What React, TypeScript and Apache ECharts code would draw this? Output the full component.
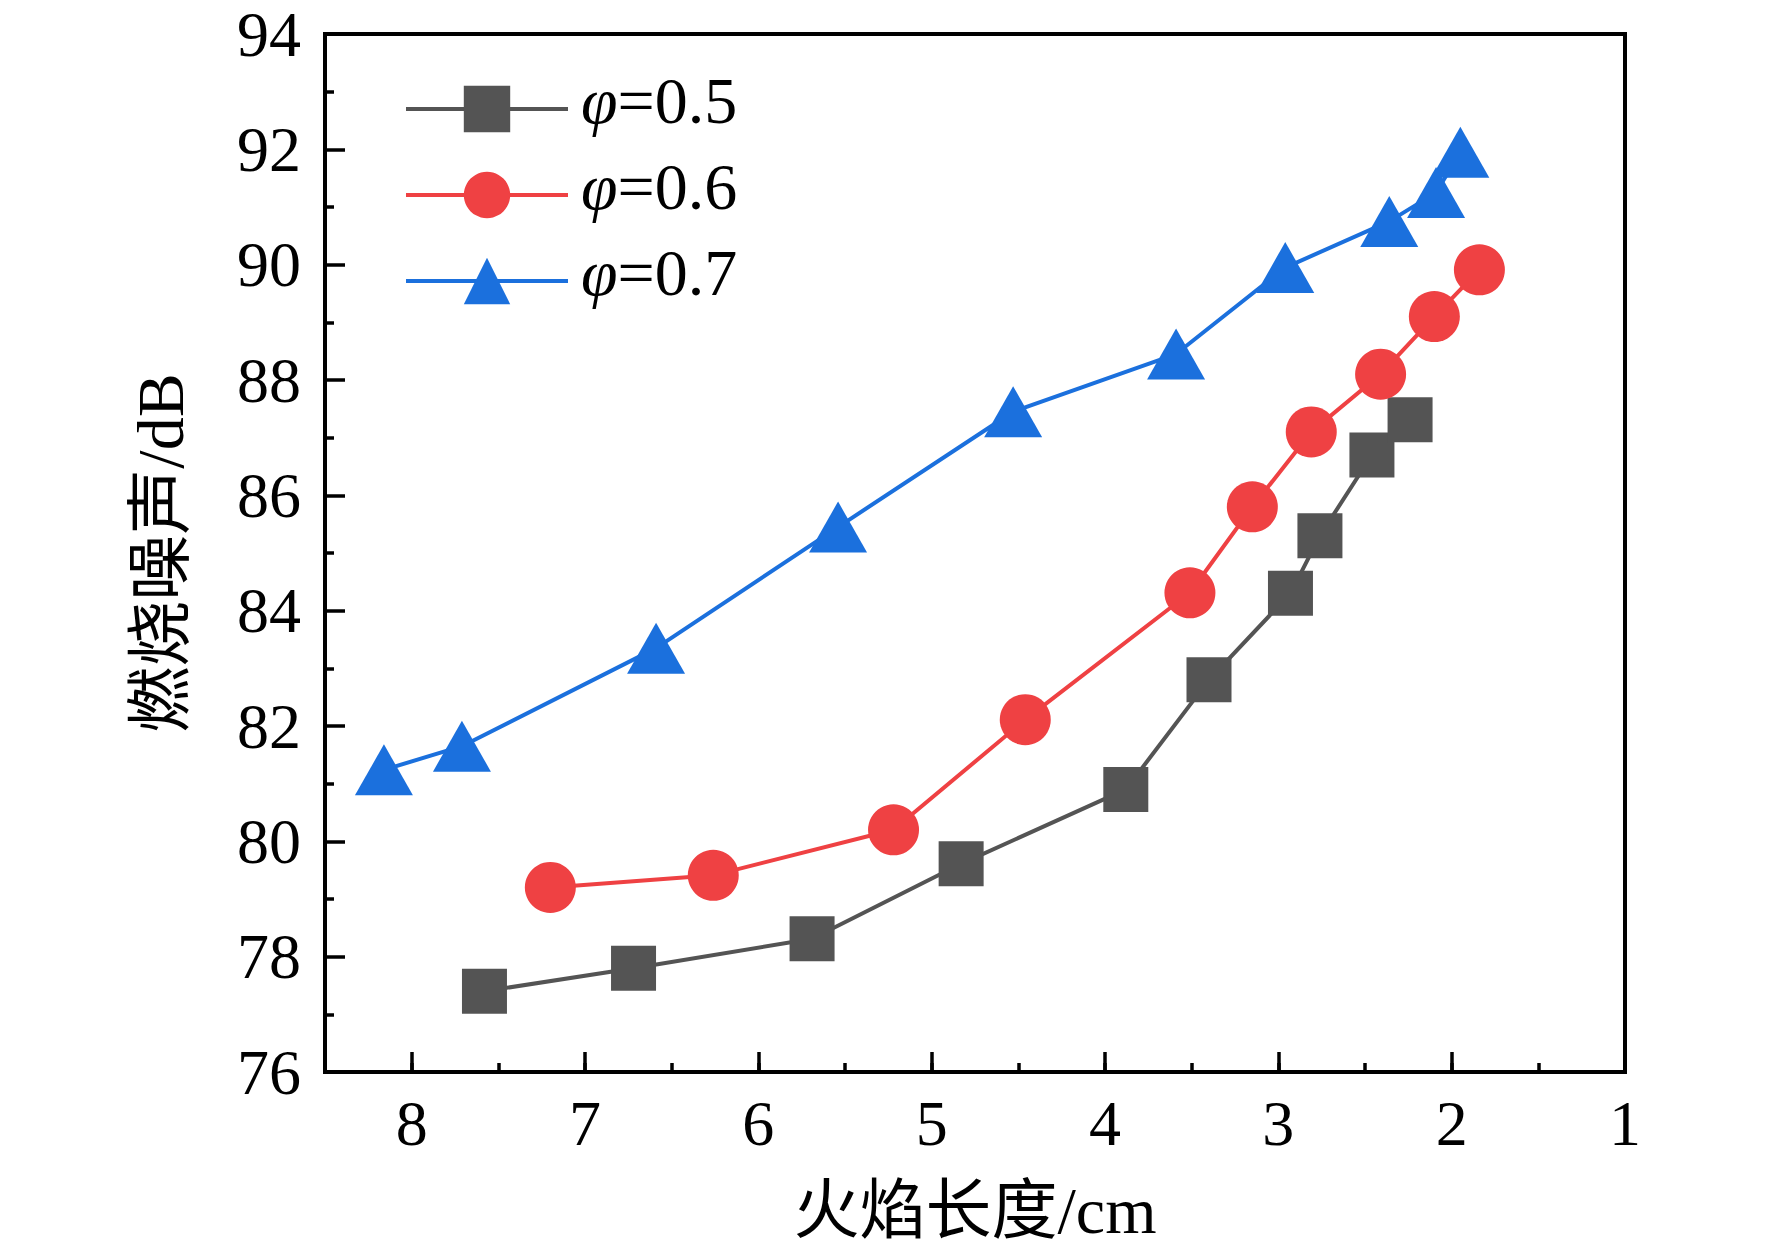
import React, { useEffect, useRef } from 'react';
import * as echarts from 'echarts';

const seriesNames = ['φ=0.5', 'φ=0.6', 'φ=0.7'];
const seriesColors = ['#545454', '#ef4143', '#1b70dd'];
const seriesSymbols = ['rect', 'circle', 'triangle'];

const lenPhi05 = [7.58, 6.72, 5.69, 4.83, 3.88, 3.40, 2.93, 2.76, 2.46, 2.24];
const noisePhi05 = [77.40, 77.80, 78.31, 79.61, 80.90, 82.80, 84.30, 85.30, 86.70, 87.31];
const lenPhi06 = [7.20, 6.26, 5.22, 4.46, 3.51, 3.15, 2.81, 2.41, 2.10, 1.84];
const noisePhi06 = [79.20, 79.41, 80.20, 82.11, 84.31, 85.80, 87.10, 88.10, 89.10, 89.91];
const lenPhi07 = [8.16, 7.71, 6.59, 5.54, 4.53, 3.59, 2.96, 2.36, 2.09, 1.95];
const noisePhi07 = [81.24, 81.65, 83.35, 85.45, 87.45, 88.45, 89.95, 90.75, 91.25, 91.95];

const xMin = 1;
const xMax = 8.5;
const yMin = 76;
const yMax = 94;
const xTitle = '火焰长度/cm';
const yTitle = '燃烧噪声/dB';

const FONT = "'Liberation Serif', 'Times New Roman', 'Noto Sans CJK SC', serif";

export default function App() {
  const ref = useRef<HTMLDivElement>(null);
  useEffect(() => {
    document.body.style.margin = '0';
    if (!ref.current) return;
    const chart = echarts.init(ref.current, null, { renderer: 'svg' });
    const xs = [lenPhi05, lenPhi06, lenPhi07];
    const ys = [noisePhi05, noisePhi06, noisePhi07];
    const sizes: any[] = [45, 51, [58, 51]];
    const legendCenters = [111, 197, 283];
    const itemH = 58;
    const padB = 18;
    const option: any = {
      animation: false,
      backgroundColor: '#fff',
      grid: {
        left: 325, right: 147, top: 34, bottom: 181,
        show: true, borderColor: '#000', borderWidth: 4,
      },
      legend: seriesNames.map((n, i) => ({
        data: [n],
        orient: 'vertical',
        left: 404,
        top: legendCenters[i] - itemH / 2 - padB / 2 - 6,
        itemWidth: 162,
        itemHeight: itemH,
        padding: 0,
        selectedMode: false,
        lineStyle: { width: 4 },
        formatter: (name: string) => `{i|φ}{n|${name.slice(1)}}`,
        textStyle: {
          fontSize: 66, fontFamily: FONT, color: '#000', lineHeight: itemH,
          rich: {
            i: { fontSize: 66, fontFamily: FONT, fontStyle: 'italic', color: '#000', lineHeight: itemH, padding: [0, 0, padB, 8] },
            n: { fontSize: 66, fontFamily: FONT, color: '#000', lineHeight: itemH, padding: [0, 0, padB, 0] },
          },
        },
      })),
      xAxis: [
        {
          type: 'value', min: xMin, max: xMax, interval: 0.5, inverse: true, position: 'bottom',
          name: xTitle, nameLocation: 'middle', nameGap: 105,
          nameTextStyle: { fontSize: 66, fontFamily: FONT, color: '#000' },
          axisLine: { show: true, lineStyle: { color: '#000', width: 4 } },
          axisTick: { show: true, inside: true, length: 9, lineStyle: { color: '#000', width: 3.5 } },
          axisLabel: {
            show: true, margin: 19, fontSize: 64, fontFamily: FONT, color: '#000',
            formatter: (v: number) => (Number.isInteger(v) ? String(v) : ''),
          },
          splitLine: { show: false },
        },
        {
          type: 'value', min: xMin, max: xMax, interval: 1, inverse: true, position: 'bottom',
          axisLine: { show: false },
          axisTick: { show: true, inside: true, length: 20, lineStyle: { color: '#000', width: 3.5 } },
          axisLabel: { show: false },
          splitLine: { show: false },
        },
      ],
      yAxis: {
        type: 'value', min: yMin, max: yMax, interval: 2,
        name: yTitle, nameLocation: 'middle', nameGap: 132,
        nameTextStyle: { fontSize: 66, fontFamily: FONT, color: '#000' },
        axisLine: { show: true, lineStyle: { color: '#000', width: 4 } },
        axisTick: { show: true, inside: true, length: 20, lineStyle: { color: '#000', width: 3.5 } },
        minorTick: { show: true, splitNumber: 2, length: 9, lineStyle: { color: '#000', width: 3.5 } },
        axisLabel: { show: true, margin: 24, fontSize: 64, fontFamily: FONT, color: '#000' },
        splitLine: { show: false },
        minorSplitLine: { show: false },
      },
      series: seriesNames.map((n, i) => ({
        name: n,
        type: 'line',
        xAxisIndex: 0,
        data: xs[i].map((x, k) => [x, ys[i][k]]),
        symbol: seriesSymbols[i],
        symbolSize: sizes[i],
        lineStyle: { color: seriesColors[i], width: 4 },
        itemStyle: { color: seriesColors[i] },
        z: 3 + i,
      })),
    };
    chart.setOption(option);
    return () => chart.dispose();
  }, []);
  return <div ref={ref} style={{ position: 'absolute', left: 0, top: 0, width: 1772, height: 1253 }} />;
}
